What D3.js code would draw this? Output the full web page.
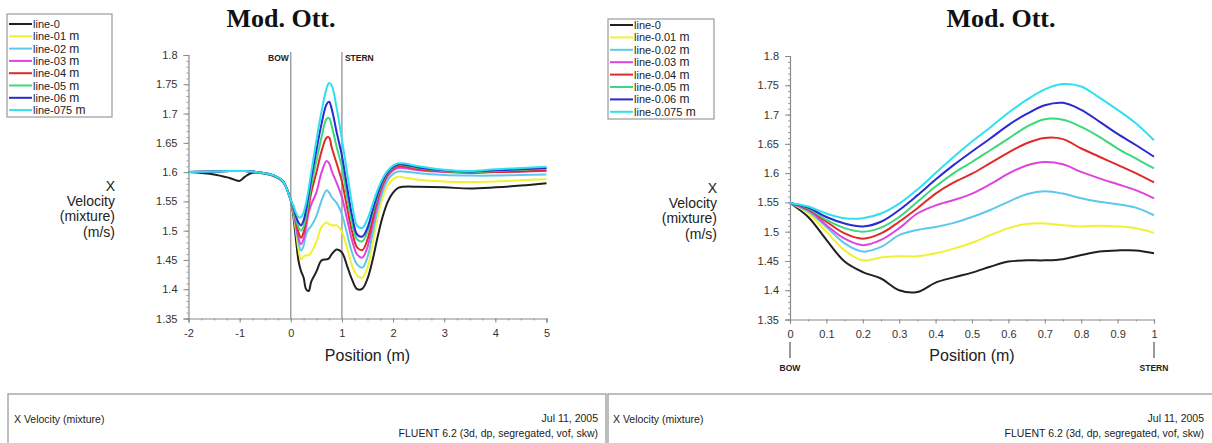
<!DOCTYPE html>
<html>
<head>
<meta charset="utf-8">
<script src="https://cdn.jsdelivr.net/npm/d3@7"></script>
<style>
  html, body { margin: 0; padding: 0; background: #fff; }
  svg { display: block; }
  text { font-family: "Liberation Sans", Arial, sans-serif; }
</style>
</head>
<body>
<svg id="chart" width="1212" height="443"></svg>
<script>
// ---- Series definitions -------------------------------------------------
const seriesColors = ["#202020", "#f2f030", "#5ec8ec", "#dd44dd", "#e02a2a", "#3cd87c", "#2a2ad0", "#30e0f0"];
const leftLegendNames  = ["line-0", "line-01", "line-02", "line-03", "line-04", "line-05", "line-06", "line-075"];
const rightLegendNames = ["line-0", "line-0.01", "line-0.02", "line-0.03", "line-0.04", "line-0.05", "line-0.06", "line-0.075"];

// ---- Full-length profile (-2 m to 5 m) -----------------------------------
const leftPositions = [-2, -1.5, -1.2, -1, -0.9, -0.75, -0.5, -0.3, -0.15, 0,
  0.05, 0.1, 0.15, 0.2, 0.25, 0.3, 0.35, 0.4, 0.5, 0.6, 0.7, 0.75, 0.8, 0.9, 1,
  1.1, 1.2, 1.3, 1.4, 1.5, 1.6, 1.7, 1.8, 1.9, 2, 2.1, 2.2, 2.5, 3, 3.5, 4, 4.5, 5];

const leftLine0 = [1.6, 1.596, 1.59, 1.585, 1.592, 1.599, 1.597, 1.592, 1.583, 1.552,
  1.525, 1.486, 1.449, 1.431, 1.42, 1.400, 1.397, 1.413, 1.430, 1.449, 1.451, 1.453, 1.46, 1.468, 1.463,
  1.44, 1.416, 1.4, 1.401, 1.418, 1.45, 1.49, 1.525, 1.55, 1.565, 1.573, 1.575, 1.575, 1.574, 1.572, 1.574, 1.577, 1.581];
const leftLine01 = [1.6, 1.601, 1.602, 1.602, 1.602, 1.601, 1.598, 1.593, 1.584, 1.552,
  1.531, 1.50, 1.468, 1.451, 1.456, 1.458, 1.458, 1.463, 1.481, 1.506, 1.514, 1.511, 1.509, 1.509, 1.498,
  1.47, 1.44, 1.423, 1.42, 1.437, 1.478, 1.523, 1.558, 1.578, 1.588, 1.592, 1.591, 1.587, 1.584, 1.583, 1.584, 1.586, 1.588];
const leftLine02 = [1.6, 1.601, 1.602, 1.602, 1.602, 1.601, 1.598, 1.593, 1.584, 1.552,
  1.534, 1.508, 1.48, 1.466, 1.474, 1.494, 1.503, 1.508, 1.525, 1.551, 1.569, 1.565, 1.557, 1.547, 1.528,
  1.495, 1.462, 1.442, 1.437, 1.455, 1.495, 1.537, 1.568, 1.587, 1.597, 1.601, 1.601, 1.598, 1.595, 1.594, 1.594, 1.595, 1.596];
const leftLine03 = [1.6, 1.601, 1.602, 1.602, 1.602, 1.601, 1.598, 1.593, 1.584, 1.552,
  1.537, 1.511, 1.488, 1.477, 1.486, 1.506, 1.531, 1.545, 1.565, 1.599, 1.619, 1.615, 1.602, 1.581, 1.557,
  1.52, 1.483, 1.459, 1.454, 1.472, 1.51, 1.548, 1.576, 1.594, 1.603, 1.607, 1.607, 1.603, 1.6, 1.599, 1.6, 1.601, 1.602];
const leftLine04 = [1.6, 1.601, 1.602, 1.602, 1.602, 1.601, 1.598, 1.593, 1.584, 1.552,
  1.538, 1.517, 1.497, 1.488, 1.497, 1.517, 1.540, 1.565, 1.599, 1.635, 1.659, 1.659, 1.642, 1.614, 1.584,
  1.54, 1.498, 1.471, 1.467, 1.485, 1.52, 1.555, 1.58, 1.597, 1.606, 1.61, 1.61, 1.605, 1.601, 1.599, 1.6, 1.601, 1.603];
const leftLine05 = [1.6, 1.601, 1.602, 1.602, 1.602, 1.601, 1.598, 1.593, 1.584, 1.552,
  1.54, 1.52, 1.506, 1.5, 1.507, 1.525, 1.551, 1.577, 1.619, 1.659, 1.691, 1.692, 1.679, 1.642, 1.608,
  1.558, 1.512, 1.485, 1.482, 1.498, 1.53, 1.56, 1.584, 1.6, 1.608, 1.612, 1.612, 1.607, 1.602, 1.6, 1.602, 1.604, 1.606];
const leftLine06 = [1.6, 1.601, 1.602, 1.602, 1.602, 1.601, 1.598, 1.593, 1.584, 1.552,
  1.541, 1.525, 1.514, 1.509, 1.517, 1.537, 1.562, 1.589, 1.637, 1.682, 1.716, 1.72, 1.708, 1.667, 1.628,
  1.575, 1.525, 1.493, 1.49, 1.505, 1.535, 1.563, 1.586, 1.601, 1.609, 1.613, 1.613, 1.608, 1.603, 1.601, 1.603, 1.605, 1.607];
const leftLine075 = [1.6, 1.601, 1.602, 1.602, 1.602, 1.601, 1.598, 1.593, 1.584, 1.552,
  1.543, 1.531, 1.523, 1.523, 1.531, 1.548, 1.572, 1.6, 1.654, 1.703, 1.743, 1.752, 1.748, 1.708, 1.656,
  1.60, 1.545, 1.508, 1.505, 1.52, 1.545, 1.57, 1.59, 1.603, 1.611, 1.615, 1.615, 1.61, 1.604, 1.602, 1.605, 1.607, 1.609];

// ---- Hull region (bow 0 m to stern 1 m) ----------------------------------
const rightPositions = [0, 0.05, 0.1, 0.15, 0.2, 0.25, 0.3, 0.35, 0.4, 0.45, 0.5,
  0.55, 0.6, 0.65, 0.7, 0.75, 0.8, 0.85, 0.9, 0.95, 1];

const rightLine0   = [1.549, 1.525, 1.486, 1.449, 1.431, 1.42, 1.400, 1.397, 1.413, 1.422, 1.430, 1.44, 1.449, 1.451, 1.451, 1.453, 1.46, 1.466, 1.468, 1.468, 1.463];
const rightLine001 = [1.549, 1.531, 1.50, 1.468, 1.451, 1.456, 1.458, 1.458, 1.463, 1.471, 1.481, 1.494, 1.506, 1.513, 1.514, 1.511, 1.509, 1.510, 1.509, 1.506, 1.498];
const rightLine002 = [1.549, 1.534, 1.508, 1.48, 1.466, 1.474, 1.494, 1.503, 1.508, 1.515, 1.525, 1.537, 1.551, 1.564, 1.569, 1.565, 1.557, 1.551, 1.547, 1.541, 1.528];
const rightLine003 = [1.549, 1.537, 1.511, 1.488, 1.477, 1.486, 1.506, 1.531, 1.545, 1.554, 1.565, 1.581, 1.599, 1.613, 1.619, 1.615, 1.602, 1.591, 1.581, 1.571, 1.557];
const rightLine004 = [1.549, 1.538, 1.517, 1.497, 1.488, 1.497, 1.517, 1.540, 1.565, 1.584, 1.599, 1.617, 1.635, 1.651, 1.660, 1.658, 1.642, 1.628, 1.614, 1.6, 1.584];
const rightLine005 = [1.549, 1.54, 1.52, 1.506, 1.5, 1.507, 1.525, 1.551, 1.577, 1.6, 1.619, 1.639, 1.659, 1.679, 1.692, 1.691, 1.679, 1.662, 1.642, 1.625, 1.608];
const rightLine006 = [1.549, 1.541, 1.525, 1.514, 1.509, 1.517, 1.537, 1.562, 1.589, 1.614, 1.637, 1.659, 1.682, 1.701, 1.716, 1.72, 1.708, 1.688, 1.667, 1.648, 1.628];
const rightLine0075 = [1.549, 1.543, 1.531, 1.523, 1.523, 1.531, 1.548, 1.572, 1.6, 1.628, 1.654, 1.678, 1.703, 1.725, 1.743, 1.752, 1.748, 1.729, 1.708, 1.685, 1.656];

// ---- Tick labels ---------------------------------------------------------
const yTicks = [1.35, 1.4, 1.45, 1.5, 1.55, 1.6, 1.65, 1.7, 1.75, 1.8];
const yTickLabels = ["1.35", "1.4", "1.45", "1.5", "1.55", "1.6", "1.65", "1.7", "1.75", "1.8"];
const leftXTicks = [-2, -1, 0, 1, 2, 3, 4, 5];
const leftXTickLabels = ["-2", "-1", "0", "1", "2", "3", "4", "5"];
const rightXTicks = [0, 0.1, 0.2, 0.3, 0.4, 0.5, 0.6, 0.7, 0.8, 0.9, 1];
const rightXTickLabels = ["0", "0.1", "0.2", "0.3", "0.4", "0.5", "0.6", "0.7", "0.8", "0.9", "1"];

const yAxisLabel = ["X", "Velocity", "(mixture)", "(m/s)"];

// --------------------------------------------------------------------------
const svg = d3.select("#chart");

function drawPanel(opts) {
  const g = svg.append("g");
  const x = d3.scaleLinear().domain(opts.xDomain).range([opts.left, opts.right]);
  const y = d3.scaleLinear().domain([1.35, 1.8]).range([opts.bottom, opts.top]);

  // title
  g.append("text")
    .attr("x", opts.titleX).attr("y", 27)
    .attr("text-anchor", "middle")
    .style("font-family", "'Liberation Serif', 'Times New Roman', serif")
    .style("font-weight", "bold").style("font-size", "26px").attr("fill", "#111")
    .text("Mod. Ott.");

  // minor ticks
  const yMinor = d3.range(1.35, 1.8001, 0.01);
  g.append("g").attr("transform", `translate(${opts.left},0)`)
    .call(d3.axisLeft(y).tickValues(yMinor).tickSize(2).tickFormat(""))
    .call(a => a.select(".domain").remove())
    .call(a => a.selectAll("line").attr("stroke", "#999"));
  g.append("g").attr("transform", `translate(0,${opts.bottom})`)
    .call(d3.axisBottom(x).tickValues(opts.xMinor).tickSize(2).tickFormat(""))
    .call(a => a.select(".domain").remove())
    .call(a => a.selectAll("line").attr("stroke", "#999"));

  // major axes
  const yAxis = g.append("g").attr("transform", `translate(${opts.left},0)`)
    .call(d3.axisLeft(y).tickValues(yTicks).tickSize(5).tickPadding(6)
      .tickFormat((d, i) => yTickLabels[i]));
  const xAxis = g.append("g").attr("transform", `translate(0,${opts.bottom})`)
    .call(d3.axisBottom(x).tickValues(opts.xTicks).tickSize(4).tickPadding(7)
      .tickFormat((d, i) => opts.xTickLabels[i]));
  [yAxis, xAxis].forEach(a => {
    a.select(".domain").attr("stroke", "#8a8a8a").attr("stroke-width", 1.2);
    a.selectAll(".tick line").attr("stroke", "#8a8a8a");
    a.selectAll(".tick text").attr("fill", "#333")
      .style("font-family", "'Liberation Sans', Arial, sans-serif").style("font-size", "11px");
  });

  // axis titles
  g.append("text")
    .attr("x", (opts.left + opts.right) / 2).attr("y", 361)
    .attr("text-anchor", "middle").style("font-size", "16px").attr("fill", "#222")
    .text("Position (m)");
  const yl = g.append("text").attr("text-anchor", "end")
    .style("font-size", "14px").attr("fill", "#222");
  yAxisLabel.forEach((s, i) => {
    yl.append("tspan").attr("x", opts.yLabelX).attr("y", opts.yLabelTop + i * 15.2).text(s);
  });

  // bow / stern markers
  opts.markers(g, x, y);

  // series
  const line = d3.line()
    .x(d => x(d[0])).y(d => y(d[1]))
    .curve(d3.curveCatmullRom.alpha(0.5));
  opts.series.forEach((vals, i) => {
    const pts = opts.positions.map((p, k) => [p, vals[k]]);
    g.append("path")
      .datum(pts)
      .attr("d", line)
      .attr("fill", "none")
      .attr("stroke", seriesColors[i])
      .attr("stroke-width", 2)
      .attr("stroke-linejoin", "round");
  });

  // legend
  const lg = g.append("g");
  const L = opts.legend;
  lg.append("rect").attr("x", L.x).attr("y", L.y).attr("width", L.w).attr("height", L.h)
    .attr("fill", "#fff").attr("stroke", "#9a9a9a").attr("stroke-width", 1.2);
  opts.names.forEach((name, i) => {
    const cy = L.firstY + i * L.step;
    lg.append("line").attr("x1", L.x + 2).attr("x2", L.x + 25).attr("y1", cy).attr("y2", cy)
      .attr("stroke", seriesColors[i]).attr("stroke-width", 2);
    const t = lg.append("text").attr("x", L.x + 26).attr("y", cy + 4)
      .attr("fill", "#222").style("font-size", "11px");
    t.append("tspan").text(name);
    if (i > 0) t.append("tspan").style("font-size", "12px").text(" m");
  });
}

drawPanel({
  xDomain: [-2, 5], left: 188.5, right: 546.5, top: 55, bottom: 318.5,
  titleX: 281,
  xTicks: leftXTicks, xTickLabels: leftXTickLabels,
  xMinor: d3.range(-2, 5.001, 0.25),
  yLabelX: 115, yLabelTop: 191,
  positions: leftPositions,
  series: [leftLine0, leftLine01, leftLine02, leftLine03, leftLine04, leftLine05, leftLine06, leftLine075],
  names: leftLegendNames,
  legend: { x: 7, y: 14, w: 105, h: 103, firstY: 24, step: 12.3 },
  markers: (g, x, y) => {
    [0, 1].forEach(p => {
      g.append("line").attr("x1", x(p)).attr("x2", x(p)).attr("y1", y(1.805)).attr("y2", y(1.35))
        .attr("stroke", "#8a8a8a").attr("stroke-width", 1.2);
    });
    g.append("text").attr("x", x(0) - 2).attr("y", 61).attr("text-anchor", "end")
      .style("font-size", "8.5px").style("font-weight", "bold").attr("fill", "#222").text("BOW");
    g.append("text").attr("x", x(1) + 3).attr("y", 61).attr("text-anchor", "start")
      .style("font-size", "8.5px").style("font-weight", "bold").attr("fill", "#222").text("STERN");
  }
});

drawPanel({
  xDomain: [0, 1], left: 790, right: 1154, top: 56, bottom: 319.5,
  titleX: 1001,
  xTicks: rightXTicks, xTickLabels: rightXTickLabels,
  xMinor: d3.range(0, 1.001, 0.05),
  yLabelX: 717, yLabelTop: 193,
  positions: rightPositions,
  series: [rightLine0, rightLine001, rightLine002, rightLine003, rightLine004, rightLine005, rightLine006, rightLine0075],
  names: rightLegendNames,
  legend: { x: 608, y: 19, w: 106, h: 100, firstY: 25, step: 12.4 },
  markers: (g, x, y) => {
    [[0, "BOW"], [1, "STERN"]].forEach(([p, s]) => {
      g.append("line").attr("x1", x(p)).attr("x2", x(p)).attr("y1", 342).attr("y2", 358)
        .attr("stroke", "#555").attr("stroke-width", 1.2);
      g.append("text").attr("x", x(p)).attr("y", 371).attr("text-anchor", "middle")
        .style("font-size", "8.5px").style("font-weight", "bold").attr("fill", "#222").text(s);
    });
  }
});

// ---- footer info boxes -------------------------------------------------
[[8, 598, 14, 598], [608, 610, 613, 1204]].forEach(([bx, bw, tx, rx]) => {
  svg.append("rect").attr("x", bx).attr("y", 394).attr("width", bw).attr("height", 60)
    .attr("fill", "#fff").attr("stroke", "#a8a8a8").attr("stroke-width", 1.5);
  svg.append("text").attr("x", tx).attr("y", 423).style("font-size", "10.5px").attr("fill", "#222")
    .text("X Velocity (mixture)");
  svg.append("text").attr("x", rx).attr("y", 422).attr("text-anchor", "end")
    .style("font-size", "10.5px").attr("fill", "#222").text("Jul 11, 2005");
  svg.append("text").attr("x", rx).attr("y", 437).attr("text-anchor", "end")
    .style("font-size", "10.5px").attr("fill", "#222").text("FLUENT 6.2 (3d, dp, segregated, vof, skw)");
});
</script>
</body>
</html>
